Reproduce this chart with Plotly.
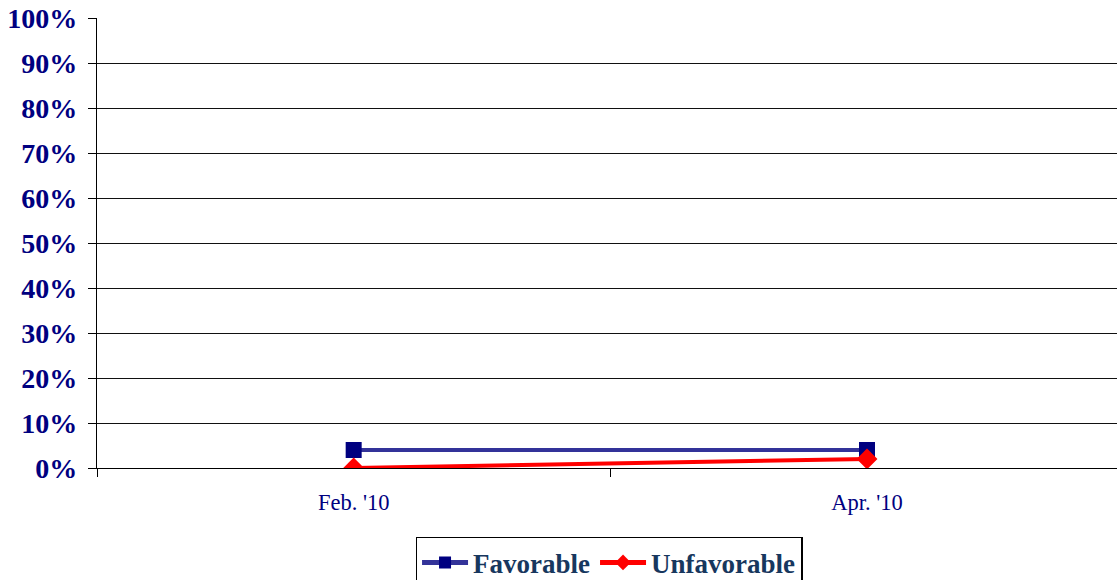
import plotly.graph_objects as go

categories = ["Feb. '10", "Apr. '10"]
favorable = [4, 4]
unfavorable = [0, 2]
y_ticks = [0, 10, 20, 30, 40, 50, 60, 70, 80, 90, 100]
y_tick_labels = [f"{v}%" for v in y_ticks]

fig = go.Figure()
fig.add_trace(go.Scatter(
    x=categories, y=favorable, name="Favorable", mode="lines+markers",
    line=dict(color="#333399", width=4),
    marker=dict(symbol="square", size=16, color="#000080"),
))
fig.add_trace(go.Scatter(
    x=categories, y=unfavorable, name="Unfavorable", mode="lines+markers",
    line=dict(color="#FF0000", width=4),
    marker=dict(symbol="diamond", size=16, color="#FF0000"),
))

fig.update_layout(
    width=1117, height=600,
    margin=dict(l=97, r=0, t=18, b=132),
    paper_bgcolor="white", plot_bgcolor="white",
    showlegend=True,
    legend=dict(
        orientation="h", x=0.502, xanchor="center", y=-0.153, yanchor="top",
        bordercolor="#000000", borderwidth=1.5,
        font=dict(family="Liberation Serif", size=27, color="#17375E", weight="bold"),
        itemsizing="constant", itemwidth=46, tracegroupgap=0,
    ),
    xaxis=dict(
        type="category", range=[-0.5, 1.487],
        tickson="boundaries", ticks="outside", ticklen=8, tickcolor="black", tickwidth=1.3,
        showline=True, linecolor="black", linewidth=1.3,
        showgrid=False, zeroline=False, ticklabelstandoff=14,
        tickfont=dict(family="Liberation Serif", size=22.5, color="#000080"),
    ),
    yaxis=dict(
        range=[0, 100], tickvals=y_ticks, ticktext=y_tick_labels,
        ticks="outside", ticklen=8, tickcolor="black", tickwidth=1.3,
        showline=True, linecolor="black", linewidth=1.3,
        showgrid=True, gridcolor="#111111", gridwidth=1.3,
        zeroline=False, ticklabelstandoff=5,
        tickfont=dict(family="Liberation Serif", size=28, color="#000080", weight="bold"),
    ),
)

fig.write_html(
    "out.html",
    config={"displayModeBar": False},
    post_script="document.body.style.margin='0';document.body.style.overflow='hidden';",
)
